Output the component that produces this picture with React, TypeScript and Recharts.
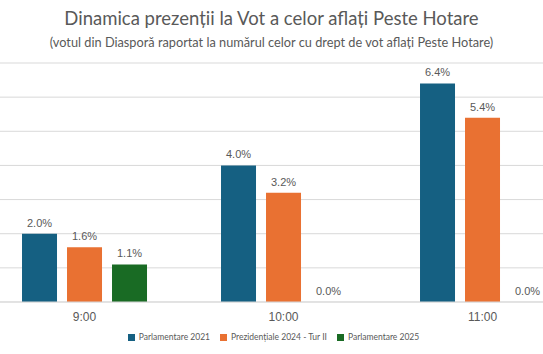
import React from "react";
import {
  BarChart,
  Bar,
  XAxis,
  YAxis,
  CartesianGrid,
  Legend,
  LabelList,
  Rectangle,
} from "recharts";

const hours = ["9:00", "10:00", "11:00"];
const parlamentare2021 = [2.0, 4.0, 6.4];
const prezidentiale2024 = [1.6, 3.2, 5.4];
const parlamentare2025 = [1.1, 0.0, 0.0];
const yTicks = [0, 1, 2, 3, 4, 5, 6, 7];

const data = hours.map((hour, i) => ({
  hour,
  p2021: parlamentare2021[i],
  p2024: prezidentiale2024[i],
  p2025: parlamentare2025[i],
}));

// zero values still need a label, so keep a 1px slot but don't paint it
const zeroSlot = (value: any) => (Number(value) === 0 ? 1 : 0);
const barShape = (props: any) =>
  Number(props.value) === 0 ? <g /> : <Rectangle {...props} />;

const renderValue = (props: any) => {
  const { x, y, width, height, value } = props;
  const top = Number(value) === 0 ? Number(y) + Number(height) : Number(y);
  return (
    <text
      x={Number(x) + Number(width) / 2}
      y={top - 7}
      textAnchor="middle"
      fill="#595959"
      fontSize={11}
      fontFamily="Liberation Sans, Arial, sans-serif"
    >
      {`${Number(value).toFixed(1)}%`}
    </text>
  );
};

const App = () => {
  return (
    <div
      style={{
        position: "absolute",
        left: 0,
        top: 0,
        width: 543,
        height: 354,
        overflow: "hidden",
        background: "#fff",
      }}
    >
      <div
        style={{
          position: "absolute",
          top: 7,
          width: 543,
          textAlign: "center",
          fontFamily: "Lato, sans-serif",
          fontSize: 18.5,
          color: "#595959",
        }}
      >
        Dinamica prezenții la Vot a celor aflați Peste Hotare
      </div>
      <div
        style={{
          position: "absolute",
          top: 34,
          width: 543,
          textAlign: "center",
          fontFamily: "Lato, sans-serif",
          fontSize: 12.75,
          color: "#595959",
        }}
      >
        (votul din Diasporă raportat la numărul celor cu drept de vot aflați Peste Hotare)
      </div>
      <div style={{ position: "absolute", left: -15, top: 0 }}>
        <BarChart
          width={597}
          height={354}
          data={data}
          margin={{ top: 63, right: 0, left: 0, bottom: 22 }}
          barGap={10}
          barCategoryGap="18.6%"
        >
          <CartesianGrid vertical={false} stroke="#d9d9d9" />
          <YAxis hide domain={[0, 7]} ticks={yTicks} />
          <XAxis
            dataKey="hour"
            height={30}
            tickLine={false}
            axisLine={{ stroke: "#d9d9d9" }}
            tick={{
              fill: "#595959",
              fontSize: 12,
              fontFamily: "Liberation Sans, Arial, sans-serif",
            }}
            tickMargin={4}
          />
          <Legend
            verticalAlign="middle"
            iconType="square"
            iconSize={7}
            itemSorter={null}
            wrapperStyle={{
              top: 332,
              left: 22,
              width: 543,
              fontSize: 8.5,
              fontFamily: "Lato, sans-serif",
            }}
            formatter={(value) => (
              <span style={{ color: "#595959" }}>{value}</span>
            )}
          />
          <Bar
            dataKey="p2021"
            name="Parlamentare 2021"
            fill="#156082"
            isAnimationActive={false}
          >
            <LabelList dataKey="p2021" content={renderValue} />
          </Bar>
          <Bar
            dataKey="p2024"
            name="Prezidențiale 2024 - Tur II"
            fill="#e97132"
            isAnimationActive={false}
          >
            <LabelList dataKey="p2024" content={renderValue} />
          </Bar>
          <Bar
            dataKey="p2025"
            name="Parlamentare 2025"
            fill="#196b24"
            minPointSize={zeroSlot}
            shape={barShape}
            isAnimationActive={false}
          >
            <LabelList dataKey="p2025" content={renderValue} />
          </Bar>
        </BarChart>
      </div>
    </div>
  );
};

export default App;
